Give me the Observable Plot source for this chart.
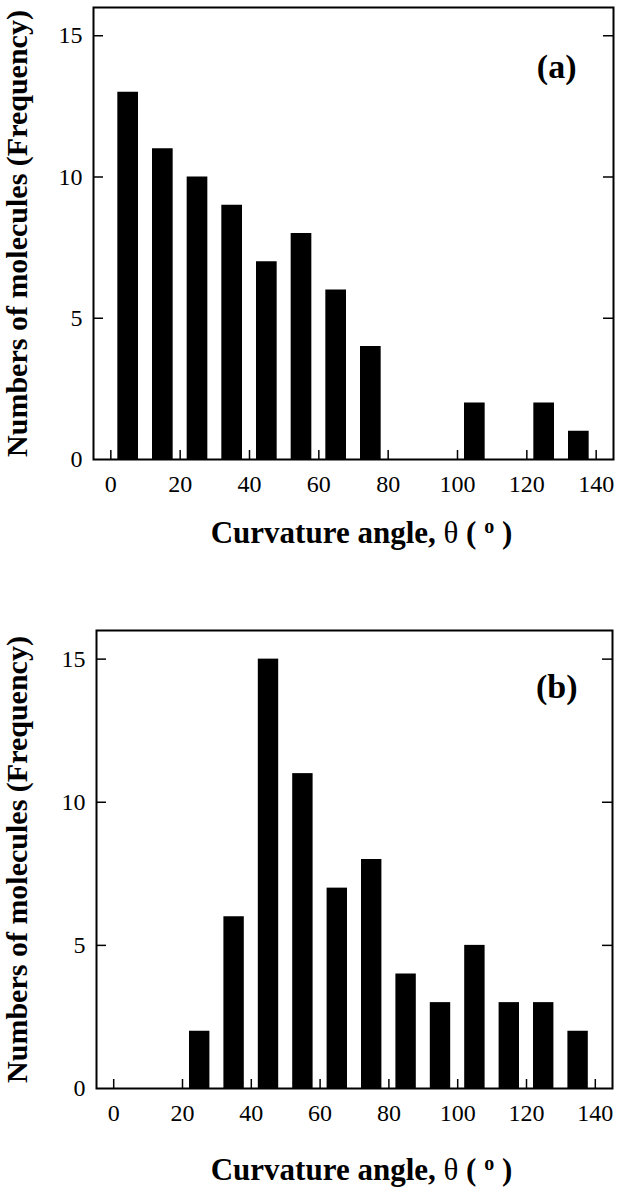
<!DOCTYPE html>
<html>
<head>
<meta charset="utf-8">
<script src="https://cdn.jsdelivr.net/npm/d3@7"></script>
<script src="https://cdn.jsdelivr.net/npm/@observablehq/plot@0.6"></script>
<style>
  body { margin: 0; background: #fff; }
  #chart svg { display: block; }
</style>
</head>
<body>
<div id="chart"></div>
<script>
// ---- data ----
const binStarts = [0, 10, 20, 30, 40, 50, 60, 70, 80, 90, 100, 110, 120, 130];
const countsA   = [13, 11, 10, 9, 7, 8, 6, 4, 0, 0, 2, 0, 2, 1];
const countsB   = [0, 0, 2, 6, 15, 11, 7, 8, 4, 3, 5, 3, 3, 2];
const xTicks = [0, 20, 40, 60, 80, 100, 120, 140];
const yTicks = [0, 5, 10, 15];
const panelLabels = ["(a)", "(b)"];
const xTitle = "Curvature angle, θ ( o )";
const yTitle = "Numbers of molecules (Frequency)";

const FONT = '"Liberation Serif", "Times New Roman", Times, serif';

function makePanel(counts, label, cfg) {
  const rows = binStarts.map((b, i) => ({start: b, end: b + 10, count: counts[i]}));
  const frameW = 623 - cfg.marginLeft - cfg.marginRight;
  const frameH = cfg.height - cfg.marginTop - cfg.marginBottom;
  const svg = Plot.plot({
    width: 623,
    height: cfg.height,
    marginTop: cfg.marginTop,
    marginBottom: cfg.marginBottom,
    marginLeft: cfg.marginLeft,
    marginRight: cfg.marginRight,
    style: {fontFamily: FONT, color: "#000", background: "#fff", overflow: "visible"},
    x: {domain: [-5, 145], label: null},
    y: {domain: [0, 16], label: null},
    marks: [
      Plot.rectY(rows, {x1: "start", x2: "end", y: "count", fill: "#000", insetLeft: 7, insetRight: 7}),
      // inward ticks
      Plot.ruleX(xTicks, {x: d => d, insetTop: frameH - 9, stroke: "#000", strokeWidth: 1.5}),
      Plot.ruleY(yTicks.filter(d => d > 0), {y: d => d, insetRight: frameW - 10, stroke: "#000", strokeWidth: 1.5}),
      Plot.ruleY(yTicks.filter(d => d > 0), {y: d => d, insetLeft: frameW - 10, stroke: "#000", strokeWidth: 1.5}),
      Plot.frame({stroke: "#000", strokeWidth: 2}),
      Plot.axisX(xTicks, {tickSize: 0, tickPadding: 15, fontSize: 24, label: null}),
      Plot.axisY(yTicks, {tickSize: 0, tickPadding: 11, fontSize: 24, label: null}),
      Plot.text([label], {frameAnchor: "top-right", dx: cfg.labelDx, dy: cfg.labelDy, text: d => d,
        fontSize: 34, fontWeight: "bold", textAnchor: "end", lineAnchor: "middle"}),
      Plot.text([yTitle], {frameAnchor: "left", dx: cfg.yTitleDx, text: d => d, rotate: -90,
        fontSize: 30, fontWeight: "bold", textAnchor: "middle", lineAnchor: "middle"}),
      Plot.text([xTitle], {frameAnchor: "bottom", dx: cfg.xTitleDx, dy: cfg.xTitleDy, text: d => d,
        fontSize: 31, fontWeight: "bold", textAnchor: "middle", lineAnchor: "middle"})
    ]
  });
  // superscript degree "o" and plain theta
  svg.querySelectorAll("text").forEach(t => {
    if (t.textContent === xTitle) {
      t.textContent = "";
      const ns = "http://www.w3.org/2000/svg";
      const parts = [
        {s: "Curvature angle, "},
        {s: "θ", w: "normal"},
        {s: " ( "},
        {s: "o", size: 20, dy: -10},
        {s: " )", dy: 10}
      ];
      parts.forEach(p => {
        const ts = document.createElementNS(ns, "tspan");
        ts.textContent = p.s;
        if (p.w) ts.setAttribute("font-weight", p.w);
        if (p.size) ts.setAttribute("font-size", p.size);
        if (p.dy) ts.setAttribute("dy", p.dy);
        t.appendChild(ts);
      });
    }
  });
  return svg;
}

const root = document.getElementById("chart");
root.appendChild(makePanel(countsA, panelLabels[0], {
  height: 580, marginTop: 7, marginBottom: 121, marginLeft: 93, marginRight: 10,
  labelDx: -37, labelDy: 60, yTitleDx: -76, xTitleDx: 8, xTitleDy: 74
}));
root.appendChild(makePanel(countsB, panelLabels[1], {
  height: 619, marginTop: 50, marginBottom: 111, marginLeft: 96, marginRight: 11,
  labelDx: -35, labelDy: 57, yTitleDx: -79, xTitleDx: 7, xTitleDy: 82
}));
</script>
</body>
</html>
